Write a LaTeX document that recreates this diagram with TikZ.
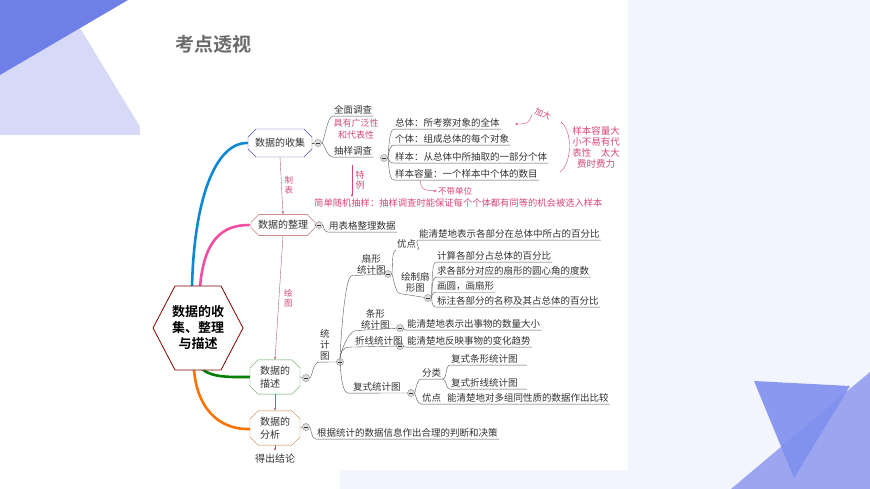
\documentclass[tikz,border=0pt]{standalone}
\usepackage{fontspec}
\setmainfont{Noto Sans CJK SC}
\newfontfamily\cjkbold{Noto Sans CJK SC Bold}
\usetikzlibrary{shapes.misc,arrows.meta}
\definecolor{ink}{HTML}{333333}
\definecolor{pinkpen}{HTML}{D9477A}
\definecolor{slidebg}{HTML}{F3F5FE}
\definecolor{deepblue}{HTML}{6E80E8}
\definecolor{paleblue}{HTML}{D6DAF6}
\definecolor{midblue}{HTML}{9BA5F0}
\definecolor{triblue}{HTML}{7F8FEE}
\tikzset{
  box/.style={chamfered rectangle,chamfered rectangle xsep=4pt,chamfered rectangle ysep=4pt,
    draw=#1,fill=white,thin,font=\fontsize{10}{13}\selectfont,text=ink,inner sep=2pt,align=center},
  minus/.style={circle,draw=gray,fill=gray!25,inner sep=0pt,minimum size=7pt,
    path picture={\draw[gray!40!black] ([xshift=1.5pt]path picture bounding box.west)
      -- ([xshift=-1.5pt]path picture bounding box.east);}},
  leaf/.style={anchor=west,font=\fontsize{9.5}{11}\selectfont,text=ink,inner xsep=1pt,inner ysep=1.5pt,align=center},
  note/.style={font=\fontsize{8.5}{10}\selectfont,text=pinkpen,align=center,inner sep=1pt},
  twig/.style={draw=gray!70!black,thin},
  down/.style={draw=pinkpen!60!gray,-{Stealth[length=3pt]}},
}
\begin{document}
\begin{tikzpicture}[x=1pt,y=-1pt]
  % Hintergrund
  \useasboundingbox (0,0) rectangle (870,489);
  \fill[white] (0,0) rectangle (870,489);
  \fill[slidebg] (628,0) rectangle (870,489);
  \fill[slidebg] (340,470) rectangle (870,489);
  \fill[paleblue] (0,75) -- (80,28) -- (145,135) -- (0,135) -- cycle;
  \fill[deepblue] (0,0) -- (128,0) -- (0,75) -- cycle;
  \fill[midblue] (731,489) -- (870,372) -- (870,489) -- cycle;
  \fill[triblue,opacity=0.9] (754,381) -- (850,386) -- (794,478) -- cycle;
  \fill[white] (140,92) rectangle (628,470);
  \node[anchor=west,text=gray!85!black,font=\cjkbold\fontsize{19}{22}\selectfont] (title) at (172,44) {考点透视};

  % Mitte
  \coordinate (H1) at (153,328);
  \coordinate (H2) at (175,286);
  \coordinate (H3) at (221,286);
  \coordinate (H4) at (243,328);
  \coordinate (H5) at (221,370);
  \coordinate (H6) at (175,370);
  \begin{scope}[line width=2.6pt,line cap=round]
    \draw[cyan!70!blue] (192,287) .. controls (194,200) and (215,143) .. (247,143);
    \draw[magenta!60!pink] (200,287) .. controls (204,240) and (222,225) .. (249,225);
    \draw[green!50!black] (202,369) .. controls (212,378) and (232,377) .. (250,377);
    \draw[orange!90!red] (194,370) .. controls (198,415) and (225,430) .. (250,429);
  \end{scope}
  \draw[red!50!black,fill=white,thick] (H1) -- (H2) -- (H3) -- (H4) -- (H5) -- (H6) -- cycle;
  \node[align=center,font=\cjkbold\fontsize{13}{16}\selectfont,text=black] (hub) at (198,328) {数据的收\\集、整理\\与描述};

  % Hauptknoten
  \node[box=blue!40!gray,minimum width=64pt,minimum height=28pt] (col) at (280,143) {数据的收集};
  \node[box=red!40!gray,minimum width=64pt,minimum height=18pt] (org) at (283,225) {数据的整理};
  \node[box=green!30!gray,minimum width=50pt,minimum height=28pt,align=left] (des) at (275,377) {数据的\\描述};
  \node[box=orange!50!gray,minimum width=50pt,minimum height=28pt,align=left] (ana) at (275,428) {数据的\\分析};
  \node[font=\fontsize{10}{12}\selectfont,text=ink] (end) at (275,459) {得出结论};
  \draw[down] (col.south) -- (org.north) node[note,midway,right=2pt] {制\\表};
  \draw[down] (org.south) -- (des.north) node[note,midway,right=4pt] {绘\\图};
  \draw[down] (des.south) -- (ana.north);
  \draw[down] (ana.south) -- (end.north);

  % Kreise
  \node[minus] (m1) at (318,143) {};
  \node[minus] (m2) at (319,225) {};
  \node[minus] (m3) at (306,378) {};
  \node[minus] (m4) at (306,427) {};
  \node[minus] (m5) at (384,158) {};
  \node[minus] (m6) at (340,362) {};
  \node[minus] (m7) at (388,274) {};
  \node[minus] (m8) at (428,298) {};
  \node[minus] (m9) at (400,328) {};
  \node[minus] (m10) at (400,346) {};
  \node[minus] (m11) at (411,393) {};
  \draw[twig] (col.east) -- (m1);
  \draw[twig] (org.east) -- (m2);
  \draw[twig] (des.east) -- (m3);
  \draw[twig] (ana.east) -- (m4);

  % Sammeln
  \node[leaf] (full) at (333,110) {全面调查};
  \node[leaf] (samp) at (333,151) {抽样调查};
  \node[note,font=\fontsize{9}{12}\selectfont] (wide) at (356,129) {具有广泛性\\和代表性};
  \foreach \n in {full,samp}
    \draw[twig] (m1) .. controls +(6,0) and +(-6,0) .. (\n.south west) -- (\n.south east);
  \node[leaf] (pop) at (394,123) {总体：所考察对象的全体};
  \node[leaf] (ind) at (394,139) {个体：组成总体的每个对象};
  \node[leaf] (smp) at (394,157) {样本：从总体中所抽取的一部分个体};
  \node[leaf] (cap) at (394,174) {样本容量：一个样本中个体的数目};
  \foreach \n in {pop,ind,smp,cap}
    \draw[twig] (m5) .. controls +(5,0) and +(-6,0) .. (\n.south west) -- (\n.south east);
  \node[note] (unit) at (455,191) {不带单位};
  \draw[pinkpen,-{Stealth[length=3pt]}] (420,180) .. controls (422,190) .. (unit.west);
  \node[note,rotate=-25] (big) at (543,114) {加大};
  \draw[pinkpen,-{Stealth[length=3pt]}] (big.south west) .. controls (528,124) .. (515,124);
  \node[note,font=\fontsize{9.5}{11}\selectfont] (size) at (596,147) {样本容量大\\小不易有代\\表性\quad 太大\\费时费力};
  \draw[pinkpen] (561,122) .. controls (573,132) and (572,163) .. (560,172);
  \node[note,font=\fontsize{9}{10}\selectfont] (spec) at (360,180) {特\\例};
  \draw[down,draw=pinkpen] (352,165) -- (352,197);
  \node[note,font=\fontsize{9.3}{11}\selectfont,anchor=west] (srs) at (313,203) {简单随机抽样：抽样调查时能保证每个个体都有同等的机会被选入样本};

  % Ordnen
  \node[leaf] (tab) at (328,226) {用表格整理数据};
  \draw[twig] (m2) .. controls +(5,0) and +(-5,0) .. (tab.south west) -- (tab.south east);

  % Beschreiben
  \node[leaf,align=center] (chart) at (319,345) {统\\计\\图};
  \draw[twig] (m3) .. controls +(6,0) and +(-6,0) .. (chart.south west) -- (m6);
  \node[leaf] (pie) at (356,264) {扇形\\统计图};
  \node[leaf] (bar) at (360,319) {条形\\统计图};
  \node[leaf] (line) at (354,341) {折线统计图};
  \node[leaf] (multi) at (352,387) {复式统计图};
  \foreach \n/\m in {pie/m7,bar/m9,line/m10,multi/m11}
    \draw[twig] (m6) .. controls +(0,-8) and +(-8,0) .. ([xshift=-4pt]\n.south west) -- (\m);

  \node[leaf] (adv) at (396,244) {优点};
  \node[leaf] (draw) at (400,282) {绘制扇\\形图};
  \foreach \n/\m in {adv/adv,draw/m8}
    \draw[twig] (m7) .. controls +(5,0) and +(-5,0) .. (\n.south west) -- (\m);
  \node[leaf] (advt) at (418,234) {能清楚地表示各部分在总体中所占的百分比};
  \draw[twig] (adv.south east) .. controls +(4,0) and +(-4,0) .. (advt.south west) -- (advt.south east);
  \node[leaf] (s1) at (436,256) {计算各部分占总体的百分比};
  \node[leaf] (s2) at (436,271) {求各部分对应的扇形的圆心角的度数};
  \node[leaf] (s3) at (436,286) {画圆，画扇形};
  \node[leaf] (s4) at (436,301) {标注各部分的名称及其占总体的百分比};
  \foreach \n in {s1,s2,s3,s4}
    \draw[twig] (m8) .. controls +(4,0) and +(-5,0) .. (\n.south west) -- (\n.south east);

  \node[leaf] (bart) at (406,324) {能清楚地表示出事物的数量大小};
  \draw[twig] (m9) .. controls +(3,0) and +(-3,0) .. (bart.south west) -- (bart.south east);
  \node[leaf] (linet) at (406,341) {能清楚地反映事物的变化趋势};
  \draw[twig] (m10) .. controls +(3,0) and +(-3,0) .. (linet.south west) -- (linet.south east);

  \node[leaf] (kind) at (421,373) {分类};
  \node[leaf] (adv2) at (421,398) {优点};
  \foreach \n in {kind,adv2}
    \draw[twig] (m11) .. controls +(4,0) and +(-4,0) .. (\n.south west) -- (\n.south east);
  \node[leaf] (mb) at (450,359) {复式条形统计图};
  \node[leaf] (ml) at (450,383) {复式折线统计图};
  \foreach \n in {mb,ml}
    \draw[twig] (kind.south east) .. controls +(5,0) and +(-5,0) .. (\n.south west) -- ([xshift=8pt]\n.south east);
  \node[leaf] (adv2t) at (446,398) {能清楚地对多组同性质的数据作出比较};
  \draw[twig] (adv2.south east) -- (adv2t.south west) -- (adv2t.south east);

  % Analysieren
  \node[leaf] (dec) at (316,433) {根据统计的数据信息作出合理的判断和决策};
  \draw[twig] (m4) .. controls +(5,0) and +(-5,0) .. (dec.south west) -- (dec.south east);
\end{tikzpicture}
\end{document}
